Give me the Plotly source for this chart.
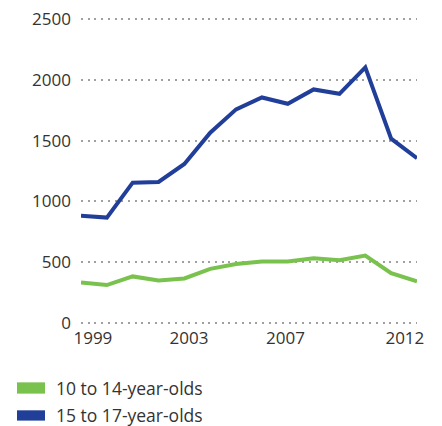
import plotly.graph_objects as go

years = list(range(1999, 2013))
age_10_14 = [333, 312, 383, 350, 366, 445, 485, 506, 506, 533, 517, 555, 410, 342]
age_15_17 = [881, 867, 1154, 1160, 1308, 1565, 1757, 1855, 1803, 1921, 1885, 2102, 1516, 1355]
series_names = ["10 to 14-year-olds", "15 to 17-year-olds"]
x_tick_labels = ["1999", "2003", "2007", "2012"]
x_tick_pos = [1999.46, 2003.18, 2006.91, 2011.53]
y_ticks = [0, 500, 1000, 1500, 2000, 2500]

GREEN = "#7ac24e"
BLUE = "#213f99"
TXT = "#333333"
FONT = "Open Sans"
FS = 17

W, H = 442, 426
ML, MR, MT, MB = 81, 25, 17, 100.7
PW, PH = W - ML - MR, H - MT - MB


def px_x(px):
    return (px - ML) / PW


def px_y(py):
    return (H - MB - py) / PH


fig = go.Figure()
colors = [GREEN, BLUE]
for name, vals, col in zip(series_names, [age_10_14, age_15_17], colors):
    fig.add_trace(go.Scatter(x=years, y=vals, mode="lines", name=name,
                             line=dict(color=col, width=4), showlegend=False,
                             cliponaxis=False))

# manual legend (swatches + labels)
legend_rows = [(382.7, 394.0), (410.7, 421.0)]
for (top, bot), name, col in zip(legend_rows, series_names, colors):
    fig.add_shape(type="rect", xref="paper", yref="paper",
                  x0=px_x(17), x1=px_x(45), y0=px_y(bot), y1=px_y(top),
                  fillcolor=col, line=dict(width=0))
    fig.add_annotation(xref="paper", yref="paper", x=px_x(54), y=px_y((top + bot) / 2),
                       text=name, showarrow=False, xanchor="left", yanchor="middle",
                       font=dict(family=FONT, size=17.5, color=TXT))

fig.update_layout(
    width=W, height=H,
    margin=dict(l=ML, r=MR, t=MT, b=MB, autoexpand=False),
    paper_bgcolor="white", plot_bgcolor="white",
    font=dict(family=FONT, size=FS, color=TXT),
    showlegend=False,
    xaxis=dict(range=[1999, 2012], showgrid=False, zeroline=False, showline=False,
               tickmode="array", tickvals=x_tick_pos, ticktext=x_tick_labels,
               ticks="", ticklabelstandoff=1,
               tickfont=dict(family=FONT, size=FS, color=TXT)),
    yaxis=dict(range=[-16.5, 2516.5], showgrid=True, gridcolor="#a0a0a0", gridwidth=1.5,
               griddash="2px,4.7px", zeroline=False, showline=False,
               tickmode="array", tickvals=y_ticks, ticks="",
               ticklabelstandoff=9,
               tickfont=dict(family=FONT, size=FS, color=TXT)),
)
fig.write_html("out.html", config={"displayModeBar": False},
               post_script="document.body.style.margin='0';document.body.style.overflow='hidden';")
